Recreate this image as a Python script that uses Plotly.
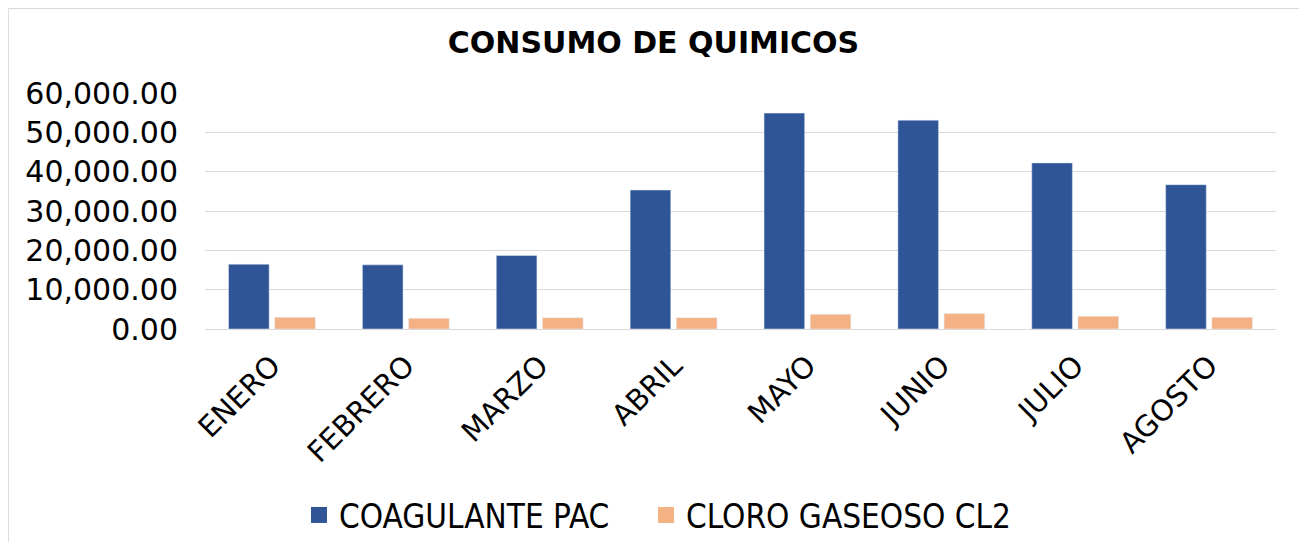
import plotly.graph_objects as go

meses = ["ENERO", "FEBRERO", "MARZO", "ABRIL", "MAYO", "JUNIO", "JULIO", "AGOSTO"]
coagulante_pac = [16480, 16310, 18690, 35340, 54890, 53100, 42230, 36700]
cloro_cl2 = [2970, 2720, 2890, 2890, 3740, 3910, 3230, 2970]

AZUL = "#2F5597"
NARANJA = "#F4B183"

# the page body has an 8px margin, so the figure is drawn 8px smaller on each side
W, H = 1291, 534
L, R, T, B = 197, 23, 85, 213
PW, PH = W - L - R, H - T - B

fig = go.Figure()
fig.add_trace(go.Bar(x=meses, y=coagulante_pac, name="COAGULANTE PAC",
                     marker_color=AZUL, showlegend=False))
fig.add_trace(go.Bar(x=meses, y=cloro_cl2, name="CLORO GASEOSO CL2",
                     marker_color=NARANJA, showlegend=False))
# legend entries with bigger square symbols, one legend box each
for nombre, color, ley in [("COAGULANTE PAC", AZUL, "legend"),
                           ("CLORO GASEOSO CL2", NARANJA, "legend2")]:
    fig.add_trace(go.Scatter(x=[None], y=[None], mode="markers", name=nombre,
                             legend=ley,
                             marker=dict(symbol="square", size=17, color=color)))

ley_comun = dict(orientation="h", xanchor="left", y=1 - 507 / H,
                 yanchor="middle", yref="container",
                 font=dict(size=33, family="DejaVu Sans Condensed"),
                 itemwidth=30, bgcolor="rgba(0,0,0,0)")

fig.update_layout(
    width=W, height=H,
    margin=dict(l=L, r=R, t=T, b=B, autoexpand=False),
    paper_bgcolor="white", plot_bgcolor="white",
    font=dict(family="DejaVu Sans", color="black"),
    title=dict(text="<b>CONSUMO DE QUIMICOS</b>", x=0.5, xanchor="center",
               y=1 - 34 / H, yanchor="middle", font=dict(size=30)),
    barmode="group", bargap=0.31, bargroupgap=0.12,
    legend=dict(x=(291 - L) / PW, **ley_comun),
    legend2=dict(x=(638 - L) / PW, **ley_comun),
    shapes=[dict(type="rect", xref="paper", yref="paper",
                 x0=-L / PW + 0.4 / PW, x1=(1295 - L) / PW,
                 y0=-(B + 20) / PH, y1=(PH + T - 0.5) / PH,
                 line=dict(color="#D9D9D9", width=1))],
)
fig.update_yaxes(range=[0, 60000], dtick=10000, tickformat=",.2f",
                 gridcolor="#D9D9D9", gridwidth=1, zeroline=False,
                 showline=False, ticks="", tickfont=dict(size=30),
                 ticklabelstandoff=26, automargin=False)
fig.update_xaxes(tickangle=-45, tickfont=dict(size=29), showline=True,
                 linecolor="#D9D9D9", linewidth=1, ticks="",
                 ticklabelstandoff=7, automargin=False)

fig.write_html("out.html")
